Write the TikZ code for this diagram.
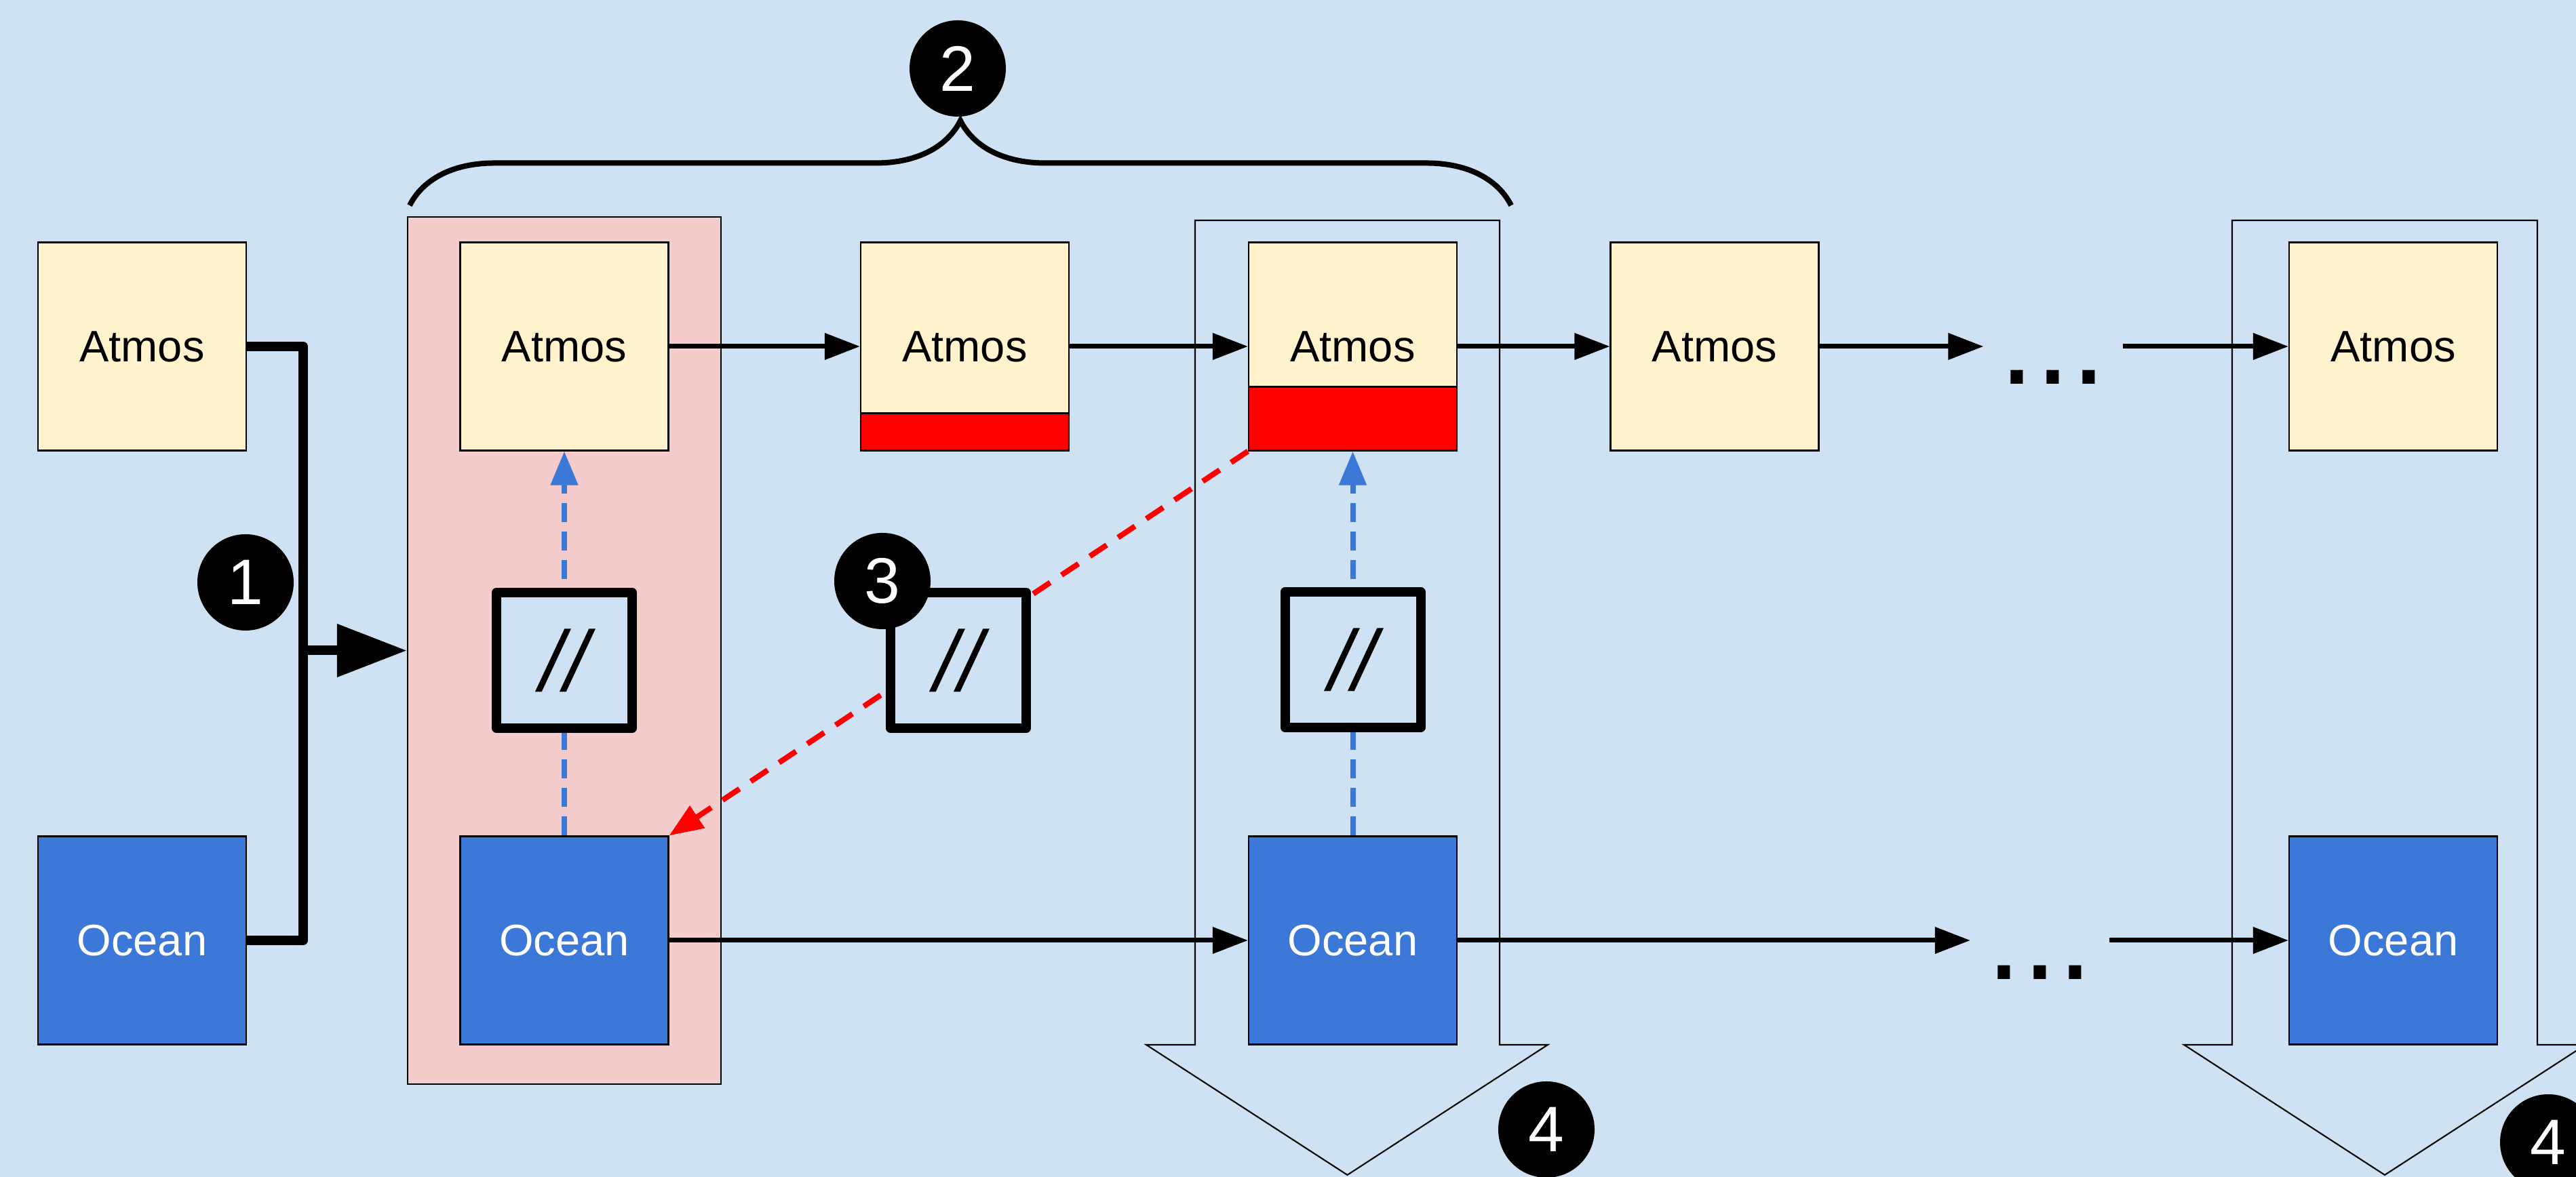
\documentclass[tikz,border=0pt]{standalone}
\usepackage{fontspec}
\setmainfont{Liberation Sans}
\usetikzlibrary{arrows.meta, decorations.pathreplacing}
\definecolor {fondo}{HTML}{CFE2F3}
\definecolor {atmosfill}{HTML}{FFF2CC}
\definecolor {oceanfill}{HTML}{3C78D8}
\definecolor {pinkfill}{HTML}{F4CCCC}

\begin{document}
\begin{tikzpicture}[-{Triangle[length=0.52cm, width=0.38cm]}, line width=0.07cm,
            atmos/.style ={rectangle, draw, line width=0.6pt, fill=atmosfill, text=black,
            minimum width=3.07cm, minimum height=3.07cm, inner sep=0pt,
            font=\fontsize{18.5}{22}\selectfont},
            ocean/.style ={atmos, fill=oceanfill, text=white},
            lag/.style ={path picture={
                \fill[red] (path picture bounding box.south west) rectangle ([yshift=#1]path picture bounding box.south east);
                \draw[-, line width=0.6pt] ([yshift=#1]path picture bounding box.south west) -- ([yshift=#1]path picture bounding box.south east);}},
            sync/.style ={rectangle, draw, line width=0.14cm, line join=round, fill=fondo,
            minimum size=2.0cm, inner sep=0pt, font=\fontsize{36}{40}\selectfont\itshape},
            num/.style ={circle, fill=black, text=white, minimum size=1.42cm, inner sep=0pt,
            font=\fontsize{27}{30}\selectfont},
            dots/.style ={inner sep=0.2cm, anchor=base, font=\fontsize{54}{56}\selectfont},
            window/.style ={rectangle, draw, line width=0.6pt, fill=pinkfill,
            minimum width=4.62cm, minimum height=12.79cm},
            frame/.style ={draw, line width=0.6pt},
            feed/.style ={draw=oceanfill, line width=0.08cm, dash pattern=on 0.28cm off 0.14cm,
            -{Triangle[length=0.50cm, width=0.39cm]}},
            loan/.style ={draw=red, line width=0.08cm, dash pattern=on 0.3cm off 0.2cm,
            -{Triangle[length=0.50cm, width=0.38cm]}}]

        \fill[fondo, use as bounding box] (0,0) rectangle (37.98,17.36);

        %\node [estilo] (nombre) at (x, y) {texto};

        \node[window] (W0) at (8.32, 7.765) {};

        %%--------------------------flechas de paso--------------------------
        \draw[frame] (17.62,14.11) -- (22.11,14.11) -- (22.11,1.95) -- (22.82,1.95)
            -- (19.865,0.03) -- (16.90,1.95) -- (17.62,1.95) -- cycle;
        \draw[frame] (32.91,14.11) -- (37.41,14.11) -- (37.41,1.95) -- (38.12,1.95)
            -- (35.16,0.03) -- (32.20,1.95) -- (32.91,1.95) -- cycle;

        \node[atmos] (A0) at (2.095, 12.25) {Atmos};
        \node[ocean] (O0) at (2.095, 3.49) {Ocean};

        \node[atmos] (A1) at (8.32, 12.25) {Atmos};
        \node[ocean] (O1) at (8.32, 3.49) {Ocean};

        \node[atmos, lag=0.55cm] (A2) at (14.225, 12.25) {Atmos};

        \node[atmos, lag=0.94cm] (A3) at (19.945, 12.25) {Atmos};
        \node[ocean] (O3) at (19.945, 3.49) {Ocean};

        \node[atmos] (A4) at (25.28, 12.25) {Atmos};

        \node[dots] (D1) at (30.27, 11.69) {...};
        \node[dots] (D2) at (30.075, 2.91) {...};

        \node[atmos] (A5) at (35.285, 12.25) {Atmos};
        \node[ocean] (O5) at (35.285, 3.49) {Ocean};

        %%--------------------------acople--------------------------
        \path (O1.north) edge[feed] (A1.south);
        \path (O3.north) edge[feed] (A3.south);
        \path (A3.south west) edge[loan] (O1.north east);

        \node[sync] (S1) at (8.32, 7.62) {//};
        \node[sync] (S3) at (14.13, 7.62) {//};
        \node[sync] (S2) at (19.945, 7.63) {//};

        \node[num] (N1) at (3.62, 8.77) {1};
        \node[num] (N2) at (14.12, 16.35) {2};
        \node[num] (N3) at (13.01, 8.79) {3};
        \node[num] (N4) at (22.80, 0.70) {4};
        \node[num] (N5) at (37.57, 0.51) {4};

        %%--------------------------caminos--------------------------
        \coordinate (J) at (4.47, 7.765);
        \draw[-, line width=0.14cm, line join=round] (A0.east) -| (J) |- (O0.east);
        \draw[line width=0.14cm, -{Triangle[length=1.03cm, width=0.75cm]}] (J) -- (W0.west);

        \path (A1) edge (A2);
        \path (A2) edge (A3);
        \path (A3) edge (A4);
        \path (A4) edge (A4 -| D1.west);
        \path (A4 -| D1.east) edge (A5);

        \path (O1) edge (O3);
        \path (O3) edge (O3 -| D2.west);
        \path (O3 -| D2.east) edge (O5);

        \coordinate (BL) at (6.04, 14.33);
        \coordinate (BR) at (22.28, 14.33);
        \draw[-, line width=0.08cm, decorate, decoration={brace, amplitude=1.25cm}] (BL) -- (BR);

    \end{tikzpicture}
\end{document}
